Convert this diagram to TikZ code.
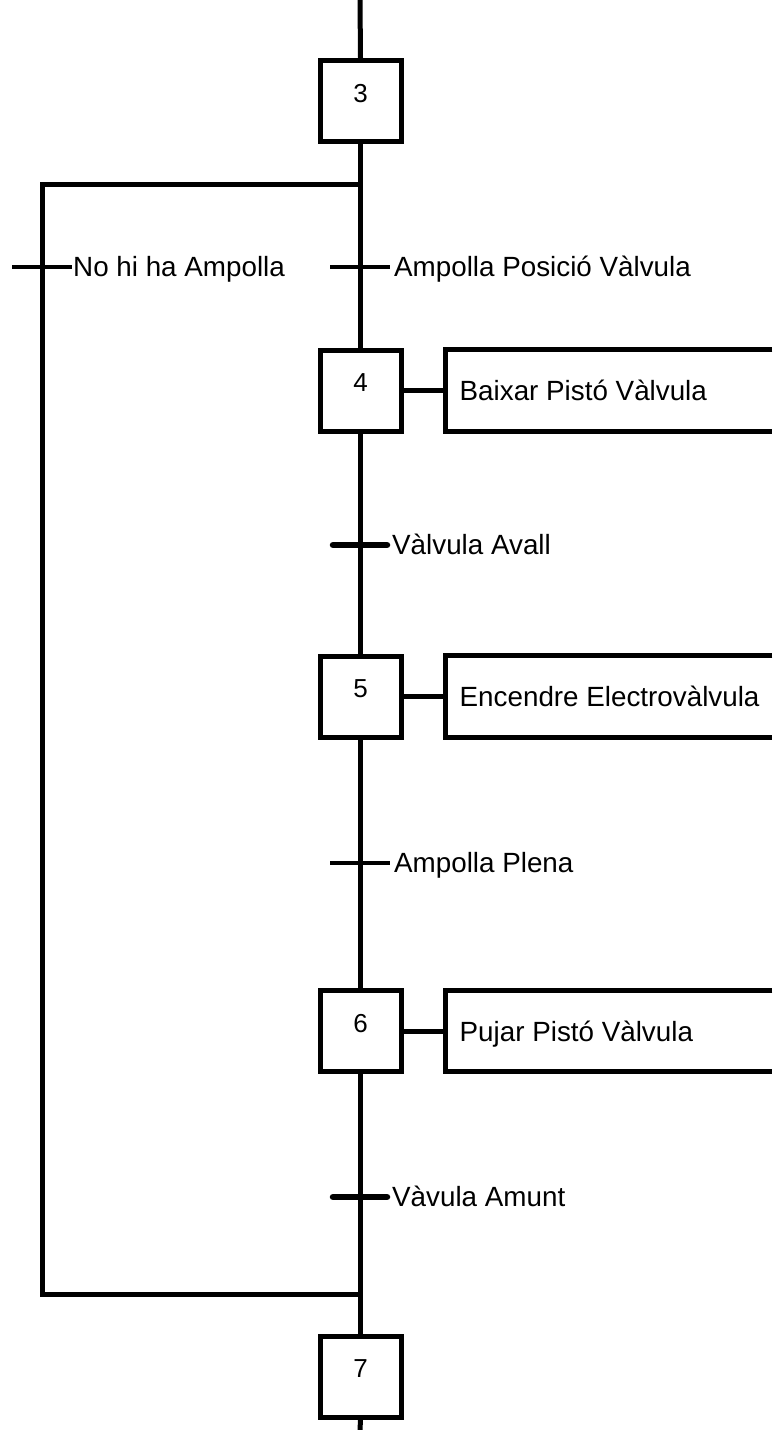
\documentclass[tikz,border=0pt]{standalone}
\usepackage{fontspec}
\setmainfont{Liberation Sans}
\usetikzlibrary{calc}
\begin{document}
\begin{tikzpicture}[x=1pt,y=-1pt,
  ln/.style={line width=5pt},
  stepbox/.style={draw, line width=5pt, minimum width=81pt, minimum height=81pt, inner sep=0pt},
  actbox/.style={minimum width=326.5pt, minimum height=81pt, inner sep=0pt, anchor=west},
  txt/.style={font=\fontsize{27.8}{33}\selectfont, inner sep=0pt, anchor=base west},
  numtxt/.style={font=\fontsize{26}{30}\selectfont, inner sep=0pt, anchor=base},
  tbar/.style={line width=4.5pt},
  tbarthick/.style={line width=6.5pt, line cap=round}
]
\useasboundingbox (0,0) rectangle (772,1430);
% end points of the main line
\coordinate (top) at (360,0);
\coordinate (bot) at (360,1430);
% steps
\node[stepbox] (s3) at (360.5,101) {};
\node[stepbox] (s4) at (360.5,390.5) {};
\node[stepbox] (s5) at (360.5,696.5) {};
\node[stepbox] (s6) at (360.5,1031) {};
\node[stepbox] (s7) at (360.5,1376.5) {};
\node[numtxt] (n3) at ($(s3.center)+(0,1)$) {3};
\node[numtxt] (n4) at ($(s4.center)+(0,1)$) {4};
\node[numtxt] (n5) at ($(s5.center)+(0,1)$) {5};
\node[numtxt] (n6) at ($(s6.center)+(0,1)$) {6};
\node[numtxt] (n7) at ($(s7.center)+(0,1)$) {7};
% actions
\node[actbox] (a4) at (445.5,390.5) {};
\node[actbox] (a5) at (445.5,696.5) {};
\node[actbox] (a6) at (445.5,1031) {};
\node[txt] (a4t) at ($(a4.west)+(14,10)$) {Baixar Pistó Vàlvula};
\node[txt] (a5t) at ($(a5.west)+(14,10)$) {Encendre Electrovàlvula};
\node[txt] (a6t) at ($(a6.west)+(14,10)$) {Pujar Pistó Vàlvula};
\foreach \a in {a4,a5,a6}{
  \draw[ln] (\a.north east) -- (\a.north west) -- (\a.south west) -- (\a.south east);
}
\draw[ln] (s4.east) -- (a4.west);
\draw[ln] (s5.east) -- (a5.west);
\draw[ln] (s6.east) -- (a6.west);
% main vertical line
\draw[ln] (top) -- (s3.north);
\draw[ln] (s3.south) -- (s4.north);
\draw[ln] (s4.south) -- (s5.north);
\draw[ln] (s5.south) -- (s6.north);
\draw[ln] (s6.south) -- (s7.north);
\draw[ln] (s7.south) -- (bot);
% alternative branch
\coordinate (j1) at (360,184);
\coordinate (j2) at (360,1294);
\coordinate (c1) at (42,184);
\coordinate (c2) at (42,1294);
\draw[ln] (j1) -- (c1) -- (c2) -- (j2);
% transitions
\coordinate (t0) at (42,267);
\coordinate (t1) at (360,267);
\coordinate (t2) at (360,545);
\coordinate (t3) at (360,863);
\coordinate (t4) at (360,1197);
\draw[tbar] ($(t0)+(-30,0)$) -- ($(t0)+(30,0)$);
\draw[tbar] ($(t1)+(-30,0)$) -- ($(t1)+(30,0)$);
\draw[tbarthick] ($(t2)+(-27,0)$) -- ($(t2)+(27,0)$);
\draw[tbar] ($(t3)+(-30,0)$) -- ($(t3)+(30,0)$);
\draw[tbarthick] ($(t4)+(-27,0)$) -- ($(t4)+(27,0)$);
\node[txt] (l0) at ($(t0)+(31,9)$) {No hi ha Ampolla};
\node[txt] (l1) at ($(t1)+(34,9)$) {Ampolla Posició Vàlvula};
\node[txt] (l2) at ($(t2)+(32,9)$) {Vàlvula Avall};
\node[txt] (l3) at ($(t3)+(34,9)$) {Ampolla Plena};
\node[txt] (l4) at ($(t4)+(32,9)$) {Vàvula Amunt};
\end{tikzpicture}
\end{document}
